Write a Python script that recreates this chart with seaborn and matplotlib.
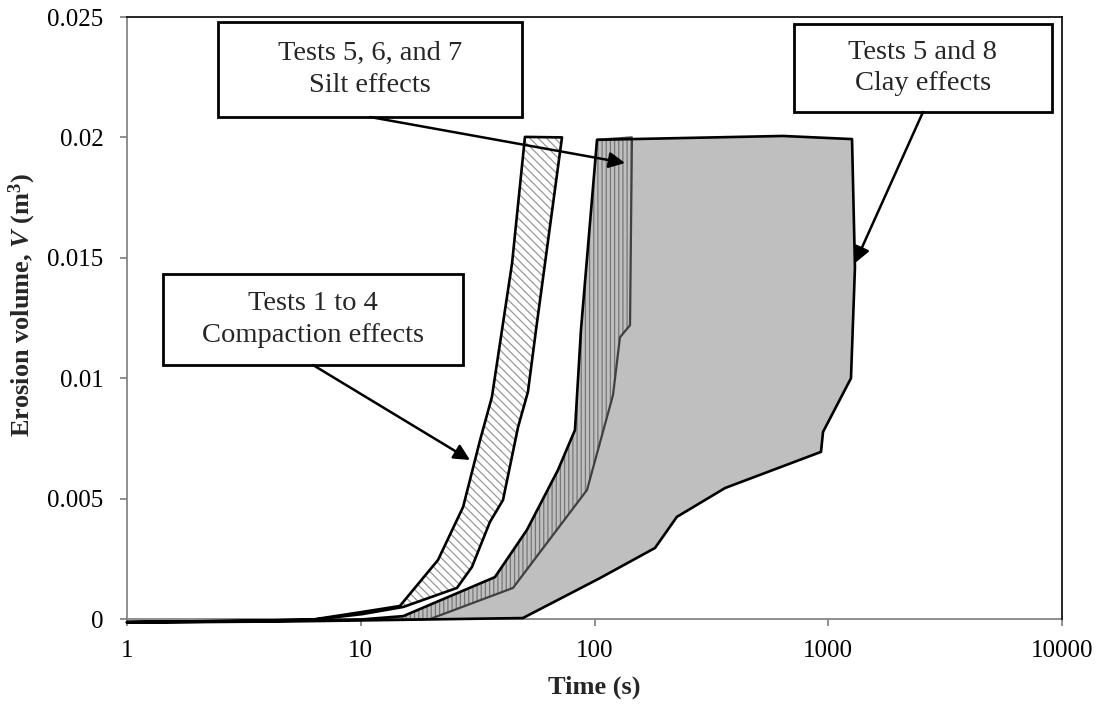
import numpy as np
import pandas as pd
import matplotlib
matplotlib.use("Agg")
import matplotlib.pyplot as plt
import seaborn as sns
from matplotlib.patches import Rectangle
from matplotlib.ticker import FixedLocator, NullLocator

# ---------------- data (time in s, volume in m^3) ----------------
# Tests 1 to 4 (compaction) envelope
comp_left_t = [1, 2, 4, 6.25, 10.1, 14.7, 21.4, 27.4, 32.4, 36.4, 44.4, 50.4]
comp_left_v = [-0.00013, -0.0001, -0.00006, -0.00002, 0.00029, 0.00054, 0.00245, 0.00465, 0.00743, 0.00922, 0.01478, 0.02002]
comp_right_t = [1, 3, 6.25, 10.1, 15.2, 25.8, 29.9, 35.7, 40.6, 47.1, 51.9, 56.2, 72.6]
comp_right_v = [-0.00012, -0.00008, -0.00003, 0.0002, 0.0005, 0.00129, 0.00216, 0.00403, 0.00494, 0.00797, 0.00943, 0.0120, 0.0200]

# Tests 5-8 common left boundary
silt_left_t = [1, 3, 6, 10, 15.2, 37.5, 51.4, 69.8, 82.5, 87.5, 102.5]
silt_left_v = [-0.00014, -0.0001, -0.00006, -0.00002, 0.00012, 0.00174, 0.0037, 0.00619, 0.00785, 0.0120, 0.0199]
# Tests 5, 6 and 7 (silt) right boundary
silt_right_t = [1, 5, 10, 19.8, 44.8, 92.9, 120, 128.5, 141.9, 144.6]
silt_right_v = [-0.00013, -0.00008, -0.00004, 0.0, 0.00129, 0.00536, 0.0093, 0.0117, 0.0122, 0.0200]
# Tests 5 and 8 (clay) top and right boundary
clay_top_t = [640]
clay_top_v = [0.02006]
clay_right_t = [1, 5, 10, 49.4, 105.6, 181.5, 225, 362, 931, 950, 1251, 1301, 1264]
clay_right_v = [-0.00015, -0.0001, -0.00006, 0.00004, 0.0017, 0.00295, 0.00424, 0.00544, 0.00694, 0.00777, 0.0100, 0.0146, 0.01993]

x_ticks = [1, 10, 100, 1000, 10000]
x_tick_labels = ["1", "10", "100", "1000", "10000"]
y_ticks = [0, 0.005, 0.01, 0.015, 0.02, 0.025]
y_tick_labels = ["0", "0.005", "0.01", "0.015", "0.02", "0.025"]

box_texts = ["Tests 1 to 4\nCompaction effects",
             "Tests 5, 6, and 7\nSilt effects",
             "Tests 5 and 8\nClay effects"]

# ---------------- style ----------------
sns.set_theme(style="white")
plt.rcParams["font.family"] = ["Liberation Serif", "DejaVu Serif"]
plt.rcParams["mathtext.fontset"] = "custom"
plt.rcParams["mathtext.rm"] = "Liberation Serif:bold"
plt.rcParams["mathtext.it"] = "Liberation Serif:italic:bold"
plt.rcParams["mathtext.bf"] = "Liberation Serif:bold"
plt.rcParams["hatch.linewidth"] = 0.9

fig = plt.figure(figsize=(11.02, 7.07), dpi=100)
ax = fig.add_axes([127 / 1102, 1 - 619 / 707, 935 / 1102, 602 / 707])
ax.set_xscale("log")
ax.set_xlim(1, 10000)
ax.set_ylim(0, 0.025)

# ---------------- polygons ----------------
clay_poly_t = silt_left_t + clay_top_t + clay_right_t[::-1]
clay_poly_v = silt_left_v + clay_top_v + clay_right_v[::-1]
ax.fill(clay_poly_t, clay_poly_v, facecolor="#bfbfbf", edgecolor="none", lw=0, clip_on=False, zorder=1)

silt_poly_t = silt_left_t + silt_right_t[::-1]
silt_poly_v = silt_left_v + silt_right_v[::-1]
ax.fill(silt_poly_t, silt_poly_v, facecolor="#bfbfbf", edgecolor="none", lw=0, clip_on=False, zorder=2)
ax.fill(silt_poly_t, silt_poly_v, facecolor="none", edgecolor="#767676", hatch="||||", lw=0, clip_on=False, zorder=2.1)

comp_poly_t = comp_left_t + comp_right_t[::-1]
comp_poly_v = comp_left_v + comp_right_v[::-1]
ax.fill(comp_poly_t, comp_poly_v, facecolor="white", edgecolor="none", lw=0, clip_on=False, zorder=2)
ax.fill(comp_poly_t, comp_poly_v, facecolor="none", edgecolor="#999999", hatch="\\\\\\\\", lw=0, clip_on=False, zorder=2.1)

# ---------------- outlines ----------------
def outline(t, v, color, lw, z):
    df = pd.DataFrame({"t": t, "v": v})
    sns.lineplot(data=df, x="t", y="v", sort=False, estimator=None, color=color,
                 lw=lw, ax=ax, clip_on=False, zorder=z)

outline(silt_right_t + [silt_left_t[-1]], silt_right_v + [silt_left_v[-1]], "#404040", 1.6, 3)
outline(clay_poly_t, clay_poly_v, "black", 1.9, 4)
outline(comp_poly_t + [comp_left_t[0]], comp_poly_v + [comp_left_v[0]], "black", 1.9, 4)

# ---------------- axes ----------------
ax.xaxis.set_major_locator(FixedLocator(x_ticks))
ax.xaxis.set_minor_locator(NullLocator())
ax.set_xticklabels(x_tick_labels)
ax.set_yticks(y_ticks)
ax.set_yticklabels(y_tick_labels)
ax.tick_params(axis="both", which="major", direction="out", length=5, width=1.3,
               color="#868686", labelsize=18, labelcolor="black", bottom=True, left=True)
ax.tick_params(axis="x", pad=10)
ax.tick_params(axis="y", pad=12)
for s in ["left", "bottom"]:
    ax.spines[s].set_color("#868686")
    ax.spines[s].set_linewidth(1.3)
for s in ["top", "right"]:
    ax.spines[s].set_color("black")
    ax.spines[s].set_linewidth(1.2)
ax.spines["left"].set_zorder(0.5)
ax.spines["bottom"].set_zorder(0.5)

ax.set_xlabel("Time (s)", fontsize=19, fontweight="bold", labelpad=10)
ax.set_ylabel("Erosion volume, $V$ (m$^{3}$)", fontsize=19, fontweight="bold")
ax.yaxis.set_label_coords((38 - 127) / 935, (619 - 305) / 602)

# ---------------- callout boxes ----------------
def px2ax(px, py):
    return ((px - 127) / 935, (619 - py) / 602)

boxes = [(163, 274, 463, 365), (218, 22, 522, 117), (794, 24, 1052, 112)]
arrows = [((313, 365), (470, 460)), ((370, 117), (625, 163)), ((923, 112), (855, 263))]
for (x0, y0, x1, y1), txt, (start, tip) in zip(boxes, box_texts, arrows):
    ax0, ay1 = px2ax(x0, y1)
    ax1_, ay0 = px2ax(x1, y0)
    ax.add_patch(Rectangle((ax0, ay1), ax1_ - ax0, ay0 - ay1, transform=ax.transAxes,
                           facecolor="white", edgecolor="black", lw=2, zorder=6, clip_on=False))
    cx, cy = px2ax((x0 + x1) / 2, (y0 + y1) / 2)
    ax.text(cx, cy, txt, transform=ax.transAxes, ha="center", va="center", fontsize=20.5,
            linespacing=1.36, zorder=7)
    ax.annotate("", xy=px2ax(*tip), xytext=px2ax(*start), xycoords="axes fraction",
                textcoords="axes fraction",
                arrowprops=dict(arrowstyle="-|>", color="black", lw=1.8, mutation_scale=24,
                                shrinkA=0, shrinkB=0), zorder=8)

fig.savefig("out.png", dpi=100)
